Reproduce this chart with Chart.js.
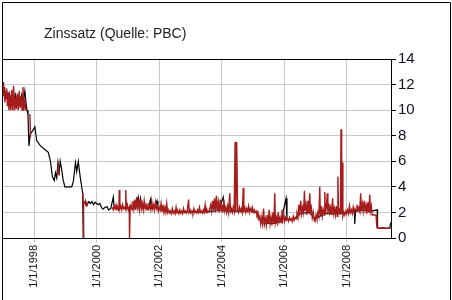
<!DOCTYPE html>
<html>
<head>
<meta charset="utf-8">
<script src="https://cdn.jsdelivr.net/npm/chart.js@4/dist/chart.umd.min.js"></script>
<style>
  html, body { margin: 0; padding: 0; background: #fff; }
  #wrap { width: 452px; height: 300px; }
</style>
</head>
<body>
<div id="wrap"><canvas id="chart" width="452" height="300"></canvas></div>
<script>
const chartTitle = 'Zinssatz (Quelle: PBC)';
const xTickYears = [1998, 2000, 2002, 2004, 2006, 2008];
const yTicks = [0, 2, 4, 6, 8, 10, 12, 14];

// daily series (red), null = gap
const redYears = [
  1997.00, 1997.02, 1997.04, 1997.06, 1997.08, 1997.10, 1997.12, 1997.14, 1997.17, 1997.19,
  1997.22, 1997.25, 1997.28, 1997.31, 1997.34, 1997.37, 1997.40, 1997.43, 1997.46, 1997.49,
  1997.52, 1997.55, 1997.58, 1997.61, 1997.64, 1997.67, 1997.70, 1997.73, 1997.76, 1997.80,
  1997.86, 1997.88, 1997.90,
  1998.74, 1998.76, 1998.79, 1998.81,
  1999.56, 1999.58, 1999.60,
  1999.62, 1999.64, 1999.66, 1999.68, 1999.70, 1999.72,
  2000.50, 2000.53, 2000.56, 2000.59, 2000.62, 2000.65, 2000.68, 2000.71, 2000.72, 2000.74,
  2000.77, 2000.80, 2000.83, 2000.86, 2000.89, 2000.92, 2000.93, 2000.95, 2000.98, 2001.01,
  2001.04, 2001.05, 2001.07, 2001.10, 2001.13, 2001.16, 2001.19, 2001.22, 2001.25, 2001.28,
  2001.31, 2001.34, 2001.37, 2001.40, 2001.43, 2001.46, 2001.49, 2001.52, 2001.55, 2001.58,
  2001.61, 2001.64, 2001.67, 2001.70, 2001.73, 2001.76, 2001.79, 2001.82, 2001.85, 2001.88,
  2001.91, 2001.94, 2001.97, 2002.00, 2002.03, 2002.06, 2002.09, 2002.12, 2002.15, 2002.18,
  2002.21, 2002.24, 2002.27, 2002.30, 2002.33, 2002.36, 2002.39, 2002.42, 2002.45, 2002.48,
  2002.51, 2002.54, 2002.57, 2002.60, 2002.63, 2002.66, 2002.69, 2002.72, 2002.75, 2002.78,
  2002.81, 2002.84, 2002.87, 2002.90, 2002.94, 2002.96, 2002.99, 2003.02, 2003.05, 2003.08,
  2003.11, 2003.14, 2003.17, 2003.20, 2003.23, 2003.26, 2003.29, 2003.32, 2003.35, 2003.38,
  2003.41, 2003.44, 2003.47, 2003.50, 2003.53, 2003.56, 2003.59, 2003.62, 2003.65, 2003.68,
  2003.71, 2003.74, 2003.77, 2003.80, 2003.83, 2003.86, 2003.89, 2003.92, 2003.95, 2003.98,
  2004.01, 2004.04, 2004.07, 2004.10, 2004.13, 2004.16, 2004.19, 2004.22, 2004.26, 2004.28,
  2004.31, 2004.34, 2004.37, 2004.40, 2004.43, 2004.45, 2004.48, 2004.51, 2004.54, 2004.57,
  2004.60, 2004.63, 2004.66, 2004.69, 2004.71, 2004.74, 2004.77, 2004.80, 2004.83, 2004.86,
  2004.89, 2004.92, 2004.95, 2004.98, 2005.01, 2005.04, 2005.07, 2005.10, 2005.13, 2005.16,
  2005.19, 2005.22, 2005.25, 2005.28, 2005.31, 2005.34, 2005.37, 2005.40, 2005.43, 2005.46,
  2005.49, 2005.52, 2005.55, 2005.58, 2005.61, 2005.64, 2005.67, 2005.70, 2005.72, 2005.75,
  2005.78, 2005.81, 2005.84, 2005.87, 2005.90, 2005.93, 2005.96, 2005.99, 2006.02, 2006.05,
  2006.08, 2006.11, 2006.14, 2006.17, 2006.20, 2006.23, 2006.26, 2006.29, 2006.32, 2006.35,
  2006.38, 2006.41, 2006.44, 2006.47, 2006.50, 2006.53, 2006.56, 2006.59, 2006.62, 2006.65,
  2006.67, 2006.70, 2006.73, 2006.76, 2006.79, 2006.82, 2006.84, 2006.87, 2006.90, 2006.93,
  2006.96, 2006.99, 2007.02, 2007.05, 2007.08, 2007.11, 2007.14, 2007.16, 2007.19, 2007.22,
  2007.25, 2007.28, 2007.30, 2007.32, 2007.35, 2007.38, 2007.40, 2007.43, 2007.46, 2007.49,
  2007.52, 2007.55, 2007.58, 2007.61, 2007.64, 2007.67, 2007.70, 2007.72, 2007.74, 2007.77,
  2007.80, 2007.82, 2007.84, 2007.86, 2007.88, 2007.91, 2007.94, 2007.97, 2008.00, 2008.03,
  2008.06, 2008.09, 2008.12, 2008.15, 2008.18, 2008.21, 2008.24, 2008.27, 2008.30, 2008.33,
  2008.36, 2008.39, 2008.42, 2008.45, 2008.47, 2008.50, 2008.53, 2008.56, 2008.59, 2008.62,
  2008.65, 2008.68, 2008.71, 2008.74, 2008.76, 2008.79, 2008.82, 2008.86, 2008.90, 2008.94,
  2008.97, 2009.05, 2009.15, 2009.25, 2009.35, 2009.41
];
const redRates = [
  12.2, 11.1, 11.8, 10.6, 11.5, 10.9, 11.7, 10.3, 11.4, 10.0,
  11.2, 10.0, 11.6, 10.0, 11.9, 10.0, 11.0, 10.1, 11.3, 10.0,
  11.5, 10.2, 11.1, 10.0, 11.8, 10.0, 10.9, 10.0, 10.0, null,
  9.7, 7.9, null,
  5.0, 5.9, 4.9, null,
  3.5, 0.0, null,
  2.6, 2.85, 2.5, 2.85, 2.6, null,
  2.4, 2.2, 2.5, 2.3, 2.6, 2.2, 2.4, 2.2, 3.76, 2.3,
  2.5, 2.2, 2.6, 2.3, 2.4, 2.2, 3.76, 2.3, 2.6, 2.2,
  2.4, 0.0, 2.3, 2.6, 2.2, 2.9, 2.3, 3.0, 2.2, 3.2,
  2.4, 2.8, 2.2, 3.1, 2.3, 2.7, 2.2, 2.9, 2.3, 2.6,
  2.2, 2.7, 2.3, 2.5, 2.2, 2.9, 2.3, 2.6, 2.2, 2.8,
  2.3, 2.5, 2.1, 2.4, 2.2, 2.7, 2.1, 2.6, 2.0, 2.4,
  2.0, 2.7, 2.0, 2.2, 1.95, 2.1, 1.9, 2.3, 1.95, 2.1,
  1.9, 2.4, 1.95, 2.1, 1.9, 2.2, 1.95, 2.1, 1.9, 2.3,
  2.0, 2.1, 1.95, 2.2, 3.0, 2.0, 2.2, 1.95, 2.1, 1.95,
  2.3, 2.0, 2.1, 1.95, 2.2, 2.0, 2.4, 2.0, 2.1, 1.95,
  2.2, 2.0, 2.6, 2.0, 2.2, 2.0, 2.1, 2.3, 2.6, 2.1,
  2.9, 2.2, 3.1, 2.0, 3.3, 2.2, 2.8, 2.0, 3.0, 2.1,
  2.6, 2.0, 3.0, 2.1, 2.4, 2.0, 2.5, 2.0, 3.5, 2.1,
  2.3, 2.0, 2.4, 2.1, 7.5, 2.0, 7.5, 2.2, 2.0, 2.4,
  2.1, 2.3, 2.0, 3.9, 2.2, 2.4, 2.0, 2.3, 2.1, 2.5,
  2.0, 2.3, 2.1, 2.4, 2.0, 2.2, 2.0, 2.1, 1.8, 2.0,
  1.5, 1.7, 1.1, 1.6, 1.1, 2.3, 1.1, 1.5, 1.0, 1.8,
  1.1, 2.2, 1.1, 1.6, 1.0, 2.0, 1.1, 3.5, 1.2, 1.6,
  1.2, 2.0, 1.3, 1.6, 1.2, 2.2, 1.4, 1.8, 1.3, 1.6,
  1.4, 1.5, 1.3, 1.6, 1.4, 1.5, 1.3, 1.7, 1.4, 1.6,
  1.5, 1.9, 1.6, 2.6, 2.0, 2.9, 1.9, 2.4, 2.0, 3.7,
  2.1, 2.6, 1.8, 2.9, 2.0, 3.5, 2.1, 2.4, 1.6, 2.0,
  1.4, 1.3, 1.8, 1.5, 2.0, 1.7, 4.0, 1.8, 2.5, 1.7,
  2.2, 1.8, 3.6, 1.9, 2.4, 3.5, 1.9, 2.7, 2.0, 2.4,
  1.8, 3.1, 1.9, 2.3, 1.8, 2.5, 1.7, 4.8, 2.0, 2.2,
  1.8, 8.5, 1.9, 5.9, 1.7, 2.0, 1.8, 2.1, 1.9, 2.2,
  1.9, 2.5, 2.0, 2.2, 1.9, 2.4, 2.0, 2.3, 2.1, 2.6,
  2.2, 2.4, 2.1, 3.5, 2.3, 2.7, 2.1, 2.9, 2.2, 2.6,
  1.9, 2.8, 2.0, 3.4, 2.1, 2.5, 1.8, 1.8, 1.8, 1.8,
  0.8, 0.75, 0.8, 0.75, 0.75, 0.75
];

// smoother series (black)
const blackYears = [
  1997.00, 1997.05, 1997.10, 1997.15, 1997.20, 1997.25, 1997.30, 1997.35, 1997.40, 1997.45,
  1997.50, 1997.55, 1997.60, 1997.65, 1997.70, 1997.74, 1997.77, 1997.80, 1997.83, 1997.87,
  1997.95, 1998.02, 1998.08, 1998.20, 1998.35, 1998.45, 1998.52, 1998.58, 1998.64, 1998.68,
  1998.72, 1998.76, 1998.80, 1998.83, 1998.87, 1998.92, 1998.98, 1999.20, 1999.25, 1999.32,
  1999.36, 1999.41, 1999.47, 1999.55, 1999.57, 1999.58, 1999.65, 1999.70, 1999.75, 1999.80,
  1999.85, 1999.90, 1999.95, 2000.00, 2000.05, 2000.10, 2000.15, 2000.20, 2000.27, 2000.33,
  2000.38, 2000.45, 2000.53, 2000.56, 2000.65, 2000.75, 2000.85, 2000.95, 2001.05, 2001.15,
  2001.25, 2001.33, 2001.36, 2001.40, 2001.45, 2001.55, 2001.65, 2001.72, 2001.75, 2001.85,
  2001.93, 2001.96, 2002.05, 2002.20, 2002.35, 2002.50, 2002.70, 2002.90, 2003.10, 2003.30,
  2003.50, 2003.70, 2003.90, 2004.05, 2004.08, 2004.30, 2004.50, 2004.70, 2004.90, 2005.10,
  2005.30, 2005.50, 2005.70, 2005.90, 2006.06, 2006.09, 2006.30, 2006.50, 2006.80, 2007.00,
  2007.30, 2007.60, 2007.90, 2008.10, 2008.25, 2008.26, 2008.28, 2008.50, 2008.80, 2008.98,
  2008.99, 2009.20, 2009.38, 2009.41
];
const blackRates = [
  11.6, 11.0, 11.4, 10.8, 11.3, 10.7, 11.1, 10.6, 11.2, 10.5,
  11.0, 10.4, 11.2, 10.6, 11.5, 10.5, 10.0, 9.6, 7.2, 8.1,
  8.4, 8.7, 7.6, 7.2, 6.9, 6.7, 6.0, 4.8, 4.5, 5.1,
  4.7, 5.9, 5.2, 6.0, 5.5, 4.6, 4.0, 4.0, 4.4, 5.9,
  5.2, 6.0, 4.8, 3.5, 0.0, 2.85, 2.8, 2.6, 2.85, 2.7,
  2.85, 2.6, 2.8, 2.7, 2.6, 2.7, 2.4, 2.25, 2.4, 2.45,
  2.2, 2.3, 3.2, 2.3, 2.35, 2.3, 2.4, 2.3, 2.35, 2.3,
  2.4, 3.2, 2.35, 3.1, 2.35, 2.4, 2.3, 3.0, 2.3, 2.35,
  2.9, 2.3, 2.2, 2.1, 2.05, 2.05, 2.05, 2.05, 2.05, 2.05,
  2.05, 2.1, 2.15, 3.2, 2.15, 2.1, 2.1, 2.1, 2.15, 2.0,
  1.2, 1.15, 1.15, 1.3, 3.1, 1.45, 1.45, 1.9, 2.0, 1.5,
  1.9, 1.9, 1.95, 2.05, 2.05, 1.1, 2.05, 2.2, 2.1, 2.2,
  0.8, 0.78, 0.78, 1.2
];

const toPoints = (xs, ys) => xs.map((x, i) => ({ x: x, y: ys[i] }));

const framePlugin = {
  id: 'frame',
  afterDraw(chart) {
    const ctx = chart.ctx;
    const a = chart.chartArea;
    ctx.save();
    ctx.strokeStyle = '#000';
    ctx.lineWidth = 1;
    ctx.beginPath();
    ctx.moveTo(2.5, 302);
    ctx.lineTo(2.5, 2.5);
    ctx.lineTo(450.5, 2.5);
    ctx.lineTo(450.5, 302);
    ctx.moveTo(2.5, Math.round(a.top) + 0.5);
    ctx.lineTo(Math.round(a.right) + 0.5, Math.round(a.top) + 0.5);
    ctx.stroke();
    ctx.fillStyle = '#222';
    ctx.font = '14px "Liberation Sans", Arial, sans-serif';
    ctx.textBaseline = 'alphabetic';
    ctx.fillText(chartTitle, 44, 38);
    ctx.restore();
  }
};

new Chart(document.getElementById('chart'), {
  type: 'line',
  data: {
    datasets: [
      {
        label: 'täglich',
        data: toPoints(redYears, redRates),
        borderColor: '#a61c1c',
        borderWidth: 1.4,
        pointRadius: 0,
        tension: 0,
        spanGaps: false
      },
      {
        label: 'Durchschnitt',
        data: toPoints(blackYears, blackRates),
        borderColor: '#000',
        borderWidth: 1.2,
        pointRadius: 0,
        tension: 0,
        spanGaps: false
      }
    ]
  },
  options: {
    responsive: false,
    animation: false,
    layout: { padding: { left: 3, top: 59, right: 0, bottom: 0 } },
    plugins: {
      legend: { display: false },
      tooltip: { enabled: false },
      title: { display: false }
    },
    scales: {
      x: {
        type: 'linear',
        min: 1997.0,
        max: 2009.42,
        afterBuildTicks: s => { s.ticks = xTickYears.map(v => ({ value: v })); },
        afterFit: s => { s.height = 62; },
        grid: { color: '#c8c8c8', lineWidth: 1, tickColor: '#c8c8c8', tickLength: 4 },
        border: { display: true, color: '#000', width: 1 },
        ticks: {
          autoSkip: false,
          minRotation: 90,
          maxRotation: 90,
          padding: 3,
          color: '#111',
          font: { family: '"Liberation Sans", Arial, sans-serif', size: 11 },
          callback: v => '1/1/' + v
        }
      },
      y: {
        position: 'right',
        min: 0,
        max: 14,
        afterBuildTicks: s => { s.ticks = yTicks.map(v => ({ value: v })); },
        afterFit: s => { s.width = 61; },
        grid: { color: '#c8c8c8', lineWidth: 1, tickColor: '#000', tickLength: 5 },
        border: { display: true, color: '#000', width: 1 },
        ticks: {
          padding: 2,
          color: '#101020',
          font: { family: '"Liberation Sans", Arial, sans-serif', size: 15 }
        }
      }
    }
  },
  plugins: [framePlugin]
});
</script>
</body>
</html>
